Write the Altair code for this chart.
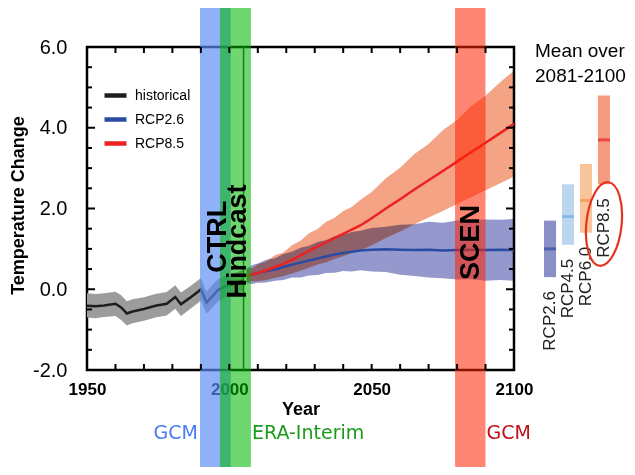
import altair as alt
import pandas as pd

# ---------------- data ----------------
HIST_YEARS = [1950, 1953, 1956, 1960, 1962, 1964, 1966, 1970, 1974, 1978, 1981,
              1983, 1986, 1989, 1990, 1992, 1994, 1996, 1998, 2000, 2002, 2005]
HIST_MEAN = [-0.41, -0.42, -0.40, -0.36, -0.45, -0.60, -0.55, -0.49, -0.41, -0.36, -0.19,
             -0.37, -0.22, -0.06, 0.00, -0.33, -0.18, -0.02, 0.05, 0.10, 0.14, 0.22]
HIST_LOW = [-0.70, -0.72, -0.69, -0.66, -0.76, -0.90, -0.84, -0.78, -0.70, -0.65, -0.48,
            -0.66, -0.50, -0.34, -0.28, -0.60, -0.46, -0.30, -0.22, -0.17, -0.13, -0.04]
HIST_HIGH = [-0.10, -0.12, -0.10, -0.06, -0.15, -0.30, -0.25, -0.20, -0.12, -0.07, 0.10,
             -0.08, 0.06, 0.22, 0.28, -0.06, 0.10, 0.25, 0.32, 0.37, 0.41, 0.48]

RCP_YEARS = [2006, 2008, 2010, 2013, 2016, 2019, 2022, 2025, 2028, 2031, 2034, 2037, 2040,
             2043, 2046, 2050, 2055, 2060, 2065, 2070, 2075, 2080, 2085, 2090, 2095, 2100]
RCP26_MEAN = [0.33, 0.37, 0.40, 0.45, 0.49, 0.55, 0.61, 0.66, 0.71, 0.76, 0.81, 0.86, 0.90,
              0.93, 0.96, 0.98, 0.99, 0.98, 0.97, 0.98, 0.96, 0.97, 0.98, 0.97, 0.98, 0.97]
RCP26_LOW = [0.15, 0.13, 0.16, 0.17, 0.21, 0.23, 0.29, 0.29, 0.34, 0.35, 0.40, 0.41, 0.45,
             0.44, 0.47, 0.44, 0.43, 0.36, 0.33, 0.29, 0.27, 0.24, 0.25, 0.21, 0.23, 0.21]
RCP26_HIGH = [0.51, 0.60, 0.64, 0.73, 0.77, 0.87, 0.93, 1.03, 1.08, 1.17, 1.22, 1.31, 1.35,
              1.42, 1.45, 1.52, 1.55, 1.60, 1.61, 1.67, 1.65, 1.70, 1.71, 1.73, 1.72, 1.74]
RCP85_MEAN = [0.33, 0.37, 0.40, 0.47, 0.55, 0.63, 0.73, 0.84, 0.95, 1.06, 1.16, 1.27, 1.37,
              1.48, 1.58, 1.76, 2.00, 2.23, 2.47, 2.70, 2.93, 3.16, 3.40, 3.63, 3.86, 4.10]
RCP85_LOW = [0.18, 0.20, 0.20, 0.23, 0.28, 0.33, 0.39, 0.46, 0.53, 0.61, 0.67, 0.75, 0.82,
             0.90, 0.96, 1.09, 1.27, 1.43, 1.61, 1.78, 1.94, 2.11, 2.28, 2.45, 2.62, 2.79]
RCP85_HIGH = [0.50, 0.52, 0.62, 0.69, 0.84, 0.91, 1.09, 1.20, 1.39, 1.49, 1.67, 1.77, 1.94,
              2.04, 2.21, 2.41, 2.75, 3.01, 3.35, 3.60, 3.94, 4.19, 4.54, 4.79, 5.12, 5.41]

SERIES = ["historical", "RCP2.6", "RCP8.5"]

PERIOD_NAMES = ["CTRL", "Hindcast", "SCEN"]
PERIOD_START = [1989.7, 1996.7, 2079.3]
PERIOD_END = [2000.5, 2007.6, 2090.0]
PERIOD_TEXT_X = [1995.9, 2002.9, 2084.9]
PERIOD_TEXT_Y = [1.30, 1.18, 1.16]
HINDCAST_LINE_YEAR = [2005]

SOURCE_LABELS = ["GCM", "ERA-Interim", "GCM"]
SOURCE_X = [1989.7, 2007.6, 2090.0]

SCEN_NAMES = ["RCP2.6", "RCP4.5", "RCP6.0", "RCP8.5"]
SCEN_MEAN = [1.0, 1.8, 2.2, 3.7]
SCEN_LOW = [0.3, 1.1, 1.4, 2.6]
SCEN_HIGH = [1.7, 2.6, 3.1, 4.8]
PANEL_TITLE = ["Mean over", "2081-2100"]
HIGHLIGHT = ["RCP8.5"]

Y_LABEL_TICKS = [-2, 0, 2, 4, 6]
Y_MINOR_TICKS = [-1.5, -1, -0.5, 0.5, 1, 1.5, 2.5, 3, 3.5, 4.5, 5, 5.5]
X_LABEL_TICKS = [1950, 2000, 2050, 2100]
X_MINOR_TICKS = [1960, 1970, 1980, 1990, 2000, 2010, 2020, 2030, 2040, 2050,
                 2060, 2070, 2080, 2090]

# ---------------- styles ----------------
LINE_COLORS = ["#1e1e1e", "#2b4aa3", "#ee2020"]
PERIOD_COLORS = ["#5a8cf5", "#00b600", "#ff2300"]
PERIOD_OPACITY = [0.68, 0.56, 0.55]
SOURCE_COLORS = ["#4a7cf2", "#1c9a1c", "#c0101a"]
SOURCE_ALIGN = ["right", "left", "left"]
SOURCE_DX = [-2, 1, 1]
SCEN_BAR_COLORS = ["#8a8fc8", "#bdd6f0", "#f9c49a", "#f59c80"]
SCEN_MEAN_COLORS = ["#2f4a9e", "#74ace0", "#f0944a", "#e2262a"]

NARROW = "Liberation Sans Narrow, Arial Narrow, Liberation Sans, sans-serif"
SANS = "Liberation Sans, Arial, sans-serif"

W, H = 427, 323

xs = alt.Scale(domain=[1950, 2100], nice=False, zero=False)
ys = alt.Scale(domain=[-2, 6], nice=False, zero=False)

x_axis = alt.Axis(values=X_LABEL_TICKS, format="d", labelFont=SANS, labelFontWeight="bold",
                  labelFontSize=17, labelColor="black", labelFlush=False, labelOverlap=False,
                  ticks=False, tickSize=0, domain=False, grid=False, labelPadding=11,
                  title="Year", titleFont=SANS, titleFontWeight="bold", titleFontSize=18,
                  titleColor="black", titlePadding=3)
y_axis = alt.Axis(values=Y_LABEL_TICKS, format=".1f",
                  labelExpr="replace(format(datum.value, '.1f'), '\u2212', '-')",
                  labelFont=NARROW, labelFontSize=20,
                  labelColor="black", ticks=False, tickSize=0, domain=False, grid=False,
                  labelPadding=20, title="Temperature Change", titleFont=SANS,
                  titleFontWeight="bold", titleFontSize=18, titleColor="black",
                  titleAngle=270, titleX=-69, titleY=158, titleAlign="center",
                  titleBaseline="middle")


def X(f):
    return alt.X(f, type="quantitative", scale=xs, axis=x_axis)


def Y(f):
    return alt.Y(f, type="quantitative", scale=ys, axis=y_axis)


# ---------------- main panel ----------------
hist_df = pd.DataFrame({"year": HIST_YEARS, "mean": HIST_MEAN, "low": HIST_LOW, "high": HIST_HIGH})
r26_df = pd.DataFrame({"year": RCP_YEARS, "mean": RCP26_MEAN, "low": RCP26_LOW, "high": RCP26_HIGH})
r85_df = pd.DataFrame({"year": RCP_YEARS, "mean": RCP85_MEAN, "low": RCP85_LOW, "high": RCP85_HIGH})

lines_df = pd.concat([
    hist_df.assign(series=SERIES[0]),
    r26_df.assign(series=SERIES[1]),
    r85_df.assign(series=SERIES[2]),
])

hist_band = alt.Chart(hist_df).mark_area(color="#9c9c9c").encode(
    x=X("year"), y=Y("low"), y2="high")
r26_band = alt.Chart(r26_df).mark_area(color="#9498cc", blend="multiply").encode(
    x=X("year"), y=Y("low"), y2="high")
r85_band = alt.Chart(r85_df).mark_area(color="#f5a385", blend="multiply").encode(
    x=X("year"), y=Y("low"), y2="high")

lines = alt.Chart(lines_df).mark_line(strokeWidth=2.5).encode(
    x=X("year"), y=Y("mean"),
    color=alt.Color("series:N", scale=alt.Scale(domain=SERIES, range=LINE_COLORS),
                    legend=alt.Legend(orient="none", legendX=15, legendY=35, title=None,
                                      symbolType="stroke", symbolSize=484,
                                      symbolStrokeWidth=4.5, labelFont=NARROW,
                                      labelFontSize=14, labelColor="black",
                                      labelOffset=6, rowPadding=1, padding=0)))

period_layers = []
for i in range(3):
    d = pd.DataFrame({"start": [PERIOD_START[i]], "end": [PERIOD_END[i]]})
    period_layers.append(
        alt.Chart(d).mark_rect(color=PERIOD_COLORS[i], opacity=PERIOD_OPACITY[i]).encode(
            x=X("start"), x2="end", y=alt.value(-45), y2=alt.value(H + 115)))

hind_line = alt.Chart(pd.DataFrame({"year": HINDCAST_LINE_YEAR})).mark_rule(
    color="#1b7d23", strokeWidth=1.5).encode(x=X("year"), y=alt.value(0), y2=alt.value(H))

tick_layers = [
    alt.Chart(pd.DataFrame({"v": Y_LABEL_TICKS})).mark_rule(color="black", strokeWidth=2).encode(
        y=Y("v"), x=alt.value(0), x2=alt.value(8)),
    alt.Chart(pd.DataFrame({"v": Y_MINOR_TICKS})).mark_rule(color="black", strokeWidth=2).encode(
        y=Y("v"), x=alt.value(0), x2=alt.value(5)),
    alt.Chart(pd.DataFrame({"v": Y_LABEL_TICKS})).mark_rule(color="black", strokeWidth=2).encode(
        y=Y("v"), x=alt.value(W), x2=alt.value(W - 8)),
    alt.Chart(pd.DataFrame({"v": Y_MINOR_TICKS})).mark_rule(color="black", strokeWidth=2).encode(
        y=Y("v"), x=alt.value(W), x2=alt.value(W - 5)),
    alt.Chart(pd.DataFrame({"v": X_MINOR_TICKS})).mark_rule(color="black", strokeWidth=2).encode(
        x=X("v"), y=alt.value(0), y2=alt.value(6)),
    alt.Chart(pd.DataFrame({"v": X_MINOR_TICKS})).mark_rule(color="black", strokeWidth=2).encode(
        x=X("v"), y=alt.value(H), y2=alt.value(H - 6)),
]

period_text = alt.Chart(pd.DataFrame({"name": PERIOD_NAMES, "x": PERIOD_TEXT_X,
                                      "y": PERIOD_TEXT_Y})).mark_text(
    angle=270, font=SANS, fontWeight="bold", fontSize=27, color="black",
    baseline="middle", align="center").encode(x=X("x"), y=Y("y"), text="name:N")

source_layers = []
for i in range(3):
    d = pd.DataFrame({"x": [SOURCE_X[i]], "label": [SOURCE_LABELS[i]]})
    source_layers.append(
        alt.Chart(d).mark_text(font="DejaVu Sans", fontSize=19, color=SOURCE_COLORS[i],
                               align=SOURCE_ALIGN[i], baseline="middle", dx=SOURCE_DX[i]).encode(
            x=X("x"), y=alt.value(H + 63), text="label:N"))

main = alt.layer(hist_band, r26_band, r85_band, lines, *period_layers, hind_line,
                 *tick_layers, period_text, *source_layers)

# ---------------- right panel ----------------
scen_df = pd.DataFrame({"name": SCEN_NAMES, "mean": SCEN_MEAN, "low": SCEN_LOW, "high": SCEN_HIGH})
xb = alt.X("name:N", scale=alt.Scale(type="band", domain=SCEN_NAMES, range=[457, 523],
                                     paddingInner=0.33, paddingOuter=0), axis=None)

bars = alt.Chart(scen_df).mark_bar().encode(
    x=xb, y=Y("low"), y2="high",
    fill=alt.Fill("name:N", scale=alt.Scale(domain=SCEN_NAMES, range=SCEN_BAR_COLORS), legend=None))
means = alt.Chart(scen_df).mark_tick(thickness=3, size=12).encode(
    x=xb, y=Y("mean"),
    color=alt.Color("name:N", scale=alt.Scale(domain=SCEN_NAMES, range=SCEN_MEAN_COLORS), legend=None))
labels = alt.Chart(scen_df).mark_text(angle=270, align="right", baseline="middle", dx=-14,
                                      fontSize=17, font=SANS, color="#222222").encode(
    x=xb, y=Y("low"), text="name:N")
ELLIPSE = "M -0.42 0 A 0.42 1 0 1 1 0.42 0 A 0.42 1 0 1 1 -0.42 0 Z"
ellipse = alt.Chart(pd.DataFrame({"name": HIGHLIGHT})).mark_point(
    shape=ELLIPSE, size=7056, filled=False, color="#e63322", strokeWidth=2.2, angle=6,
    opacity=1).encode(x=xb, y=alt.value(177))
panel_title = alt.Chart(pd.DataFrame({"a": [0]})).mark_text(
    text=PANEL_TITLE, align="left", baseline="alphabetic", fontSize=19, lineHeight=25,
    font=SANS, color="black").encode(x=alt.value(448), y=alt.value(10))

right = alt.layer(bars, means, labels, ellipse, panel_title)

chart = alt.layer(main, right).resolve_scale(
    x="independent", color="independent", fill="independent"
).properties(
    width=W, height=H,
    autosize=alt.AutoSizeParams(type="none"),
    padding={"left": 79, "top": 39, "right": 113, "bottom": 97},
    background="white",
).configure_view(stroke="black", strokeWidth=2.5)

chart.save("out.html", embed_options={"renderer": "svg", "actions": False})
